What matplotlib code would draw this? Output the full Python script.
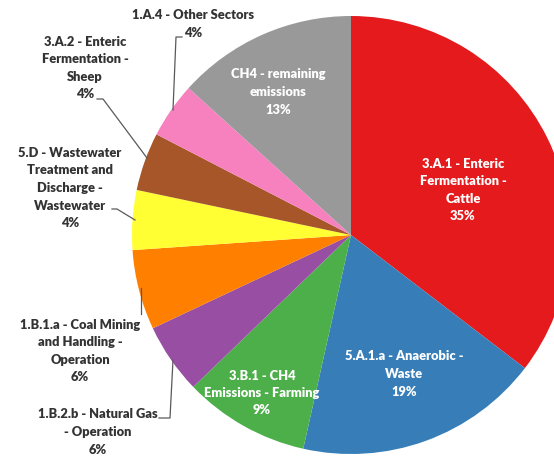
import matplotlib.pyplot as plt

# slice data, clockwise from 12 o'clock
names = ['3.A.1 - Enteric\nFermentation -\nCattle',
         '5.A.1.a - Anaerobic -\nWaste',
         '3.B.1 - CH4\nEmissions - Farming',
         '1.B.2.b - Natural Gas\n- Operation',
         '1.B.1.a - Coal Mining\nand Handling -\nOperation',
         '5.D - Wastewater\nTreatment and\nDischarge -\nWastewater',
         '3.A.2 - Enteric\nFermentation -\nSheep',
         '1.A.4 - Other Sectors',
         'CH4 - remaining\nemissions']
shares = [35.4, 18.1, 9.3, 5.2, 5.9, 4.4, 4.3, 4.1, 13.3]
pct_labels = ['35%', '19%', '9%', '6%', '6%', '4%', '4%', '4%', '13%']
colors = ['#e41a1c', '#377eb8', '#4daf4a', '#984ea3', '#ff7f00',
          '#ffff33', '#a65628', '#f781bf', '#999999']

W, H = 554, 457
fig = plt.figure(figsize=(W / 100, H / 100), dpi=100)
ax = fig.add_axes([0, 0, 1, 1])

cx, cy, r = 351, 235, 219
ax.pie(shares, colors=colors, startangle=90, counterclock=False,
       center=(cx, H - cy), radius=r, wedgeprops=dict(linewidth=0))
ax.set_xlim(0, W)
ax.set_ylim(0, H)
ax.set_aspect('equal')
ax.axis('off')

font = dict(family='Lato', weight='heavy', fontsize=9.3, ha='center', va='center',
            linespacing=1.55)

# label anchor (pixel coords from top-left), text colour
spots = [(463, 190, 'white'), (404, 374, 'white'), (262, 393, 'white'),
         (98, 432, '#333333'), (80, 351, '#333333'), (70, 188, '#333333'),
         (85, 68, '#333333'), (193, 24, '#333333'), (278, 92, 'white')]

for name, p, (x, y, c) in zip(names, pct_labels, spots):
    ax.text(x, H - y, name + '\n' + p, color=c, **font)

# leader lines
leaders = [[(159, 418), (170, 418), (173, 360)],
           [(141, 314), (141, 288)],
           [(112, 209), (117, 209), (135, 220)],
           [(97, 99), (103, 99), (147, 158)],
           [(182, 37), (176, 37), (173, 110)]]
for pts in leaders:
    ax.plot([p[0] for p in pts], [H - p[1] for p in pts], color='#595959', lw=0.9)

fig.savefig('out.png', dpi=100)
